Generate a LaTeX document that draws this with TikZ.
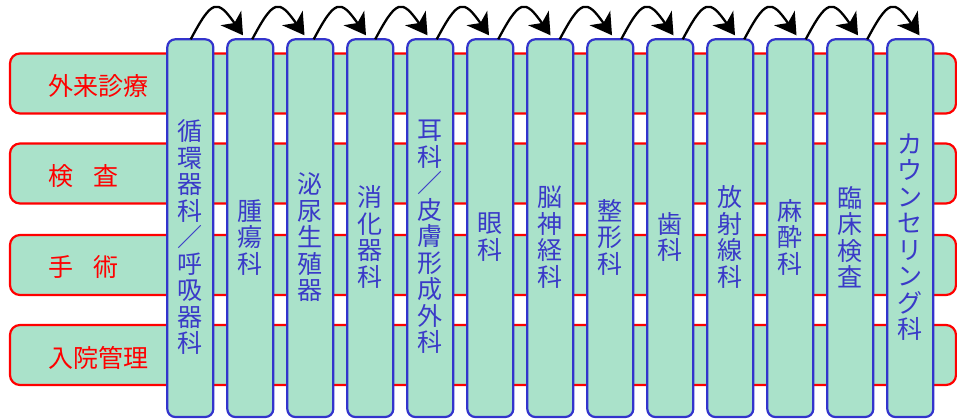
\documentclass[tikz,border=0pt]{standalone}
\usepackage{fontspec}
\newfontfamily\cjk{Noto Sans CJK JP}
\usetikzlibrary{arrows.meta}
\definecolor{fillg}{RGB}{170,226,202}
\definecolor{bord}{RGB}{51,51,204}
\definecolor{txtb}{RGB}{58,58,200}
\tikzset{
  bar/.style={draw=red, fill=fillg, rounded corners=10pt, line width=2.2pt,
    minimum width=946pt, minimum height=60pt, inner sep=0pt, outer sep=0pt},
  col/.style={draw=bord, fill=fillg, rounded corners=8pt, line width=2.2pt,
    minimum width=46pt, minimum height=377.7pt, inner sep=0pt, outer sep=0pt},
  rowlab/.style={text=red, font=\cjk\fontsize{25}{26.5}\selectfont, anchor=west, inner sep=0pt},
  coltxt/.style={text=txtb, font=\cjk\fontsize{25}{26.5}\selectfont, align=center, inner sep=0pt},
  arr/.style={-{Stealth[length=21pt,width=25pt,inset=6pt]}, line width=2.3pt, black}
}
\begin{document}
\begin{tikzpicture}[x=1pt,y=1pt]
\useasboundingbox (0,0) rectangle (957,418);
% horizontal bars
\node[bar] (b1) at (483,334.5) {};
\node[bar] (b2) at (483,244.5) {};
\node[bar] (b3) at (483,153) {};
\node[bar] (b4) at (483,63) {};
\node[rowlab] (l1) at ([xshift=38.5pt,yshift=-2.5pt]b1.west) {外来診療};
\node[rowlab] (l2) at ([xshift=38.5pt,yshift=-2.5pt]b2.west) {検\hspace{20pt}査};
\node[rowlab] (l3) at ([xshift=38.5pt,yshift=-2.5pt]b3.west) {手\hspace{20pt}術};
\node[rowlab] (l4) at ([xshift=38.5pt,yshift=-2.5pt]b4.west) {入院管理};
% columns
\foreach \k in {1,...,13}{
  \node[col] (c\k) at ({190.3+60*(\k-1)},189.85) {};
}
\node[coltxt] (t1) at ([yshift=-9pt]c1.center) {循\\環\\器\\科\\／\\呼\\吸\\器\\科};
\node[coltxt] (t2) at ([yshift=-9pt]c2.center) {腫\\瘍\\科};
\node[coltxt] (t3) at ([yshift=-9pt]c3.center) {泌\\尿\\生\\殖\\器};
\node[coltxt] (t4) at ([yshift=-9pt]c4.center) {消\\化\\器\\科};
\node[coltxt] (t5) at ([yshift=-9pt]c5.center) {耳\\科\\／\\皮\\膚\\形\\成\\外\\科};
\node[coltxt] (t6) at ([yshift=-9pt]c6.center) {眼\\科};
\node[coltxt] (t7) at ([yshift=-9pt]c7.center) {脳\\神\\経\\科};
\node[coltxt] (t8) at ([yshift=-9pt]c8.center) {整\\形\\科};
\node[coltxt] (t9) at ([yshift=-9pt]c9.center) {歯\\科};
\node[coltxt] (t10) at ([yshift=-9pt]c10.center) {放\\射\\線\\科};
\node[coltxt] (t11) at ([yshift=-9pt]c11.center) {麻\\酔\\科};
\node[coltxt] (t12) at ([yshift=-9pt]c12.center) {臨\\床\\検\\査};
\node[coltxt] (t13) at ([yshift=-9pt]c13.center) {カ\\ウ\\ン\\セ\\リ\\ン\\グ\\科};
% arrows
\foreach \k in {1,...,12}{
  \pgfmathtruncatemacro\n{\k+1}
  \pgfmathsetmacro\ds{0.4+1.5*(\k-1)}
  \pgfmathsetmacro\de{-7.3+1.5*(\k-1)}
  \draw[arr] ([xshift=\ds pt]c\k.north) to[out=62,in=125,looseness=2.2] ([xshift=\de pt,yshift=4pt]c\n.north);
}
\end{tikzpicture}
\end{document}
